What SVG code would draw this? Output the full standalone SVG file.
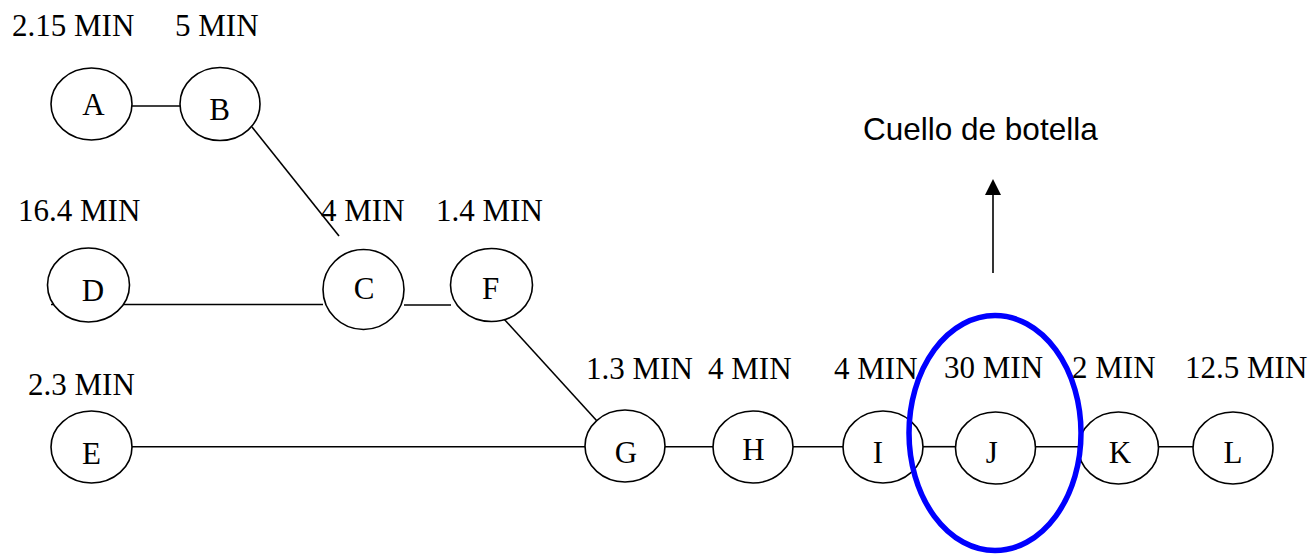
<svg xmlns="http://www.w3.org/2000/svg" width="1311" height="555" viewBox="0 0 1311 555">
  <style>
    .node { fill: #ffffff; stroke: #000000; stroke-width: 1.6; }
    .edge { stroke: #000000; stroke-width: 1.6; fill: none; }
    .lbl { font-family: "Liberation Serif", "Times New Roman", serif; font-size: 31px; fill: #000000; }
    .name { font-family: "Liberation Serif", "Times New Roman", serif; font-size: 31px; fill: #000000; text-anchor: middle; }
    .note { font-family: "Liberation Sans", Arial, sans-serif; font-size: 31.5px; fill: #000000; }
    .focus { fill: none; stroke: #0000ff; stroke-width: 5.5; }
  </style>
  <defs>
    <!-- solid triangular head pointing along the path direction -->
    <marker id="head" markerWidth="18" markerHeight="18" refX="1" refY="8" orient="auto" markerUnits="userSpaceOnUse" viewBox="0 0 18 16" overflow="visible">
      <path d="M0,0 L16,8 L0,16 Z" fill="#000000"/>
    </marker>
  </defs>

  <rect width="1311" height="555" fill="#ffffff"/>

  <!-- connectors -->
  <g id="connectors">
    <line class="edge" x1="132" y1="106" x2="180" y2="106"/>
    <line class="edge" x1="252" y1="127" x2="339" y2="236"/>
    <line class="edge" x1="51" y1="304.5" x2="323" y2="304.5"/>
    <line class="edge" x1="404" y1="305" x2="451" y2="305"/>
    <line class="edge" x1="504" y1="319" x2="597" y2="421"/>
    <line class="edge" x1="132" y1="446.7" x2="585" y2="446.7"/>
    <line class="edge" x1="665" y1="446.7" x2="713" y2="446.7"/>
    <line class="edge" x1="793" y1="446.7" x2="843" y2="446.7"/>
    <line class="edge" x1="923" y1="446.7" x2="955" y2="446.7"/>
    <line class="edge" x1="1036" y1="446.7" x2="1079" y2="446.7"/>
    <line class="edge" x1="1158" y1="446.7" x2="1193" y2="446.7"/>
    <line class="edge" x1="993" y1="273" x2="993" y2="194" stroke-width="2" marker-end="url(#head)"/>
  </g>

  <!-- stations -->
  <g id="node-A"><ellipse class="node" cx="91.5" cy="104" rx="40.5" ry="36"/><text class="name" x="93.5" y="115">A</text></g>
  <g id="node-B"><ellipse class="node" cx="220" cy="104" rx="40" ry="36.5"/><text class="name" x="219.5" y="120">B</text></g>
  <g id="node-D"><ellipse class="node" cx="88.5" cy="285" rx="41" ry="37"/><text class="name" x="93" y="300.5">D</text></g>
  <g id="node-C"><ellipse class="node" cx="363.5" cy="289.5" rx="40.5" ry="40"/><text class="name" x="364" y="299">C</text></g>
  <g id="node-F"><ellipse class="node" cx="491.5" cy="285" rx="41" ry="36.5"/><text class="name" x="490.5" y="299">F</text></g>
  <g id="node-E"><ellipse class="node" cx="91.5" cy="447" rx="40.5" ry="36"/><text class="name" x="91.5" y="464">E</text></g>
  <g id="node-G"><ellipse class="node" cx="625" cy="446" rx="40" ry="36"/><text class="name" x="626" y="463">G</text></g>
  <g id="node-H"><ellipse class="node" cx="753" cy="447" rx="40" ry="36"/><text class="name" x="753.5" y="460">H</text></g>
  <g id="node-I"><ellipse class="node" cx="883" cy="447" rx="40" ry="36"/><text class="name" x="878" y="463">I</text></g>
  <g id="node-J"><ellipse class="node" cx="995.5" cy="448" rx="40" ry="36"/><text class="name" x="991.7" y="463">J</text></g>
  <g id="node-K"><ellipse class="node" cx="1118.5" cy="448" rx="40" ry="36"/><text class="name" x="1120" y="463">K</text></g>
  <g id="node-L"><ellipse class="node" cx="1233" cy="448" rx="40" ry="36"/><text class="name" x="1233" y="463">L</text></g>

  <!-- bottleneck highlight -->
  <g id="bottleneck">
    <ellipse class="focus" cx="995" cy="433" rx="86" ry="117.5"/>
    <text class="note" x="863" y="139.5">Cuello de botella</text>
  </g>

  <!-- cycle times -->
  <g id="times">
    <text class="lbl" x="12" y="36">2.15 MIN</text>
    <text class="lbl" x="175" y="36">5 MIN</text>
    <text class="lbl" x="18" y="221">16.4 MIN</text>
    <text class="lbl" x="321" y="221">4 MIN</text>
    <text class="lbl" x="436" y="221">1.4 MIN</text>
    <text class="lbl" x="28" y="395">2.3 MIN</text>
    <text class="lbl" x="586" y="379">1.3 MIN</text>
    <text class="lbl" x="708" y="379">4 MIN</text>
    <text class="lbl" x="834" y="379">4 MIN</text>
    <text class="lbl" x="944" y="378">30 MIN</text>
    <text class="lbl" x="1072" y="378">2 MIN</text>
    <text class="lbl" x="1185" y="378">12.5 MIN</text>
  </g>
</svg>
